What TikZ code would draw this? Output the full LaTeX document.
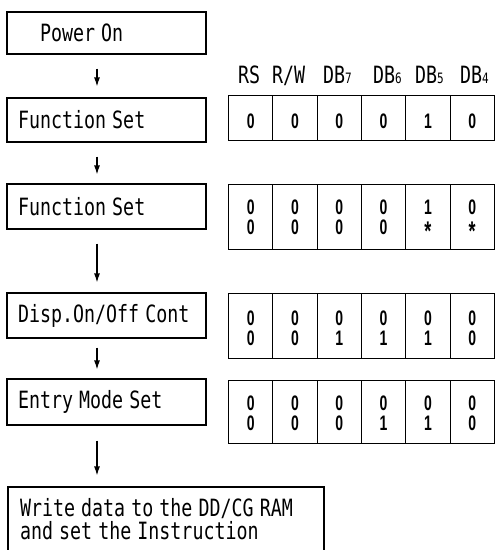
\documentclass[tikz,border=0pt]{standalone}
\usepackage{fontspec}
\setmonofont{DejaVu Sans Mono}
\newfontfamily\bitfont{Liberation Sans}
\usepackage{graphicx}
\usetikzlibrary{arrows.meta,positioning}

\newcommand{\tall}[1]{\scalebox{1}[1.3]{#1}}
\newcommand{\tallbit}[1]{\scalebox{1}[1.5]{#1}}
\newcommand{\sub}[1]{{\fontsize{11}{11}\selectfont#1}}
\newcommand{\lowast}{\raisebox{-4.5pt}{\fontsize{18}{18}\selectfont*}}

\tikzset{
  stepbox/.style={draw, line width=1.1pt, minimum width=199pt, text width=177pt,
    inner xsep=11pt, inner ysep=0pt, align=left,
    font=\ttfamily\fontsize{18.3}{18}\selectfont},
  cell/.style={draw, line width=1.1pt, minimum width=44.3pt, inner sep=0pt,
    anchor=north west},
  bit/.style={anchor=base, inner sep=0pt, font=\bitfont\bfseries\fontsize{14}{14}\selectfont},
  head/.style={anchor=base west, inner sep=0pt,
    font=\ttfamily\fontsize{18.3}{19}\selectfont},
  flow/.style={-{Latex[length=9pt,width=6pt]}, line width=1.2pt}
}

\begin{document}
\begin{tikzpicture}[x=1pt,y=-1pt]
  \useasboundingbox (0,0) rectangle (495,550);
  \clip (0,0) rectangle (495,550);

  % flow of steps
  \node[stepbox, minimum height=42pt] (pwr) at (106.5,33) {\hspace*{22pt}\tall{Power On}};
  \node[stepbox, minimum height=44pt] (fs1) at (106.5,120) {\tall{Function Set}};
  \node[stepbox, minimum height=45pt] (fs2) at (106.5,206.5) {\tall{Function Set}};
  \node[stepbox, minimum height=45pt] (disp) at (106.5,315.5) {\tall{Disp.On/Off Cont}};
  \node[stepbox, minimum height=46pt] (entry) at (106.5,402) {\tall{Entry Mode Set}};
  \node[stepbox, minimum height=64pt, minimum width=316pt, text width=292pt,
    inner xsep=12pt] (write) at (166,519)
    {\tall{Write data to the DD/CG RAM}\\[1.5pt]\tall{and set the Instruction}\\[1pt]};

  \draw[flow, shorten <=14pt, shorten >=11pt] ([xshift=-9.5pt]pwr.south) -- ([xshift=-9.5pt]fs1.north);
  \draw[flow, shorten <=14pt, shorten >=9pt] ([xshift=-9.5pt]fs1.south) -- ([xshift=-9.5pt]fs2.north);
  \draw[flow, shorten <=14pt, shorten >=10pt] ([xshift=-9.5pt]fs2.south) -- ([xshift=-9.5pt]disp.north);
  \draw[flow, shorten <=9pt, shorten >=9pt] ([xshift=-9.5pt]disp.south) -- ([xshift=-9.5pt]entry.north);
  \draw[flow, shorten <=15pt, shorten >=11pt] ([xshift=-9.5pt]entry.south)
    -- ([xshift=-9.5pt]entry.south |- write.north);

  % column heads
  \foreach \x/\t in {238/RS, 272/{R/W}, 323/{DB\sub{7}}, 373/{DB\sub{6}},
      415/{DB\sub{5}}, 460/{DB\sub{4}}}
    \node[head] (h\x) at (\x,83) {\tall{\t}};

  % bit table
  \foreach \r/\top/\h in {1/95/45, 2/184/65, 3/293/65, 4/380/63}
    \foreach \c in {1,...,6}
      \node[cell, minimum height=\h pt] (c\r\c) at ({228+(\c-1)*44.3},\top) {};

  \foreach \c/\v in {1/0, 2/0, 3/0, 4/0, 5/1, 6/0}
    \node[bit] (b1\c) at ([yshift=-33pt]c1\c.north) {\tallbit{\v}};
  \foreach \c/\u/\l in {1/0/0, 2/0/0, 3/0/0, 4/0/0, 5/1/\lowast, 6/0/\lowast} {
    \node[bit] (u2\c) at ([yshift=-30pt]c2\c.north) {\tallbit{\u}};
    \node[bit] (l2\c) at ([yshift=-50pt]c2\c.north) {\tallbit{\l}};
  }
  \foreach \c/\u/\l in {1/0/0, 2/0/0, 3/0/1, 4/0/1, 5/0/1, 6/0/0} {
    \node[bit] (u3\c) at ([yshift=-32pt]c3\c.north) {\tallbit{\u}};
    \node[bit] (l3\c) at ([yshift=-52pt]c3\c.north) {\tallbit{\l}};
  }
  \foreach \c/\u/\l in {1/0/0, 2/0/0, 3/0/0, 4/0/1, 5/0/1, 6/0/0} {
    \node[bit] (u4\c) at ([yshift=-30pt]c4\c.north) {\tallbit{\u}};
    \node[bit] (l4\c) at ([yshift=-50pt]c4\c.north) {\tallbit{\l}};
  }
\end{tikzpicture}
\end{document}
